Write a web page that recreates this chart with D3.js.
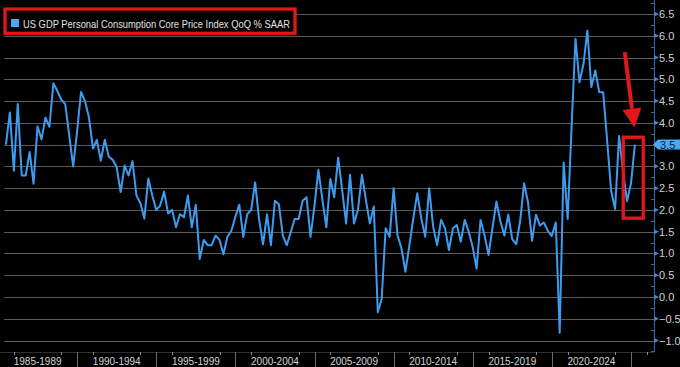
<!DOCTYPE html>
<html>
<head>
<meta charset="utf-8">
<script src="https://cdn.jsdelivr.net/npm/d3@7"></script>
<style>
  html, body { margin: 0; padding: 0; background: #000; }
  svg { display: block; }
  text { font-family: "Liberation Sans", Arial, sans-serif; }
</style>
</head>
<body>
<div id="chart"></div>
<script>
// ---- data ----
const seriesName = "US GDP Personal Consumption Core Price Index QoQ % SAAR";
const startYear = 1985;
const startQuarter = 2; // first observation: 1985 Q2
const values = [
  3.50, 4.24, 2.90, 4.43, 2.79, 2.79, 3.33, 2.60, 3.92, 3.62, 4.12, 3.91, 4.91, 4.73, 4.53, 4.43,
  3.72, 3.00, 3.82, 4.71, 4.50, 4.12, 3.41, 3.61, 3.13, 3.61, 3.22, 3.15, 2.98, 2.41, 3.02, 2.79,
  3.12, 2.33, 2.15, 1.80, 2.72, 2.33, 2.00, 2.10, 2.42, 1.92, 2.00, 1.60, 1.90, 1.83, 2.33, 1.60,
  2.12, 0.87, 1.31, 1.19, 1.19, 1.41, 1.31, 0.98, 1.38, 1.52, 1.84, 2.12, 1.38, 1.90, 2.00, 2.63,
  1.79, 1.21, 1.90, 1.19, 2.21, 2.13, 1.41, 1.19, 1.48, 1.79, 1.79, 2.21, 2.29, 1.38, 2.10, 2.92,
  2.25, 1.60, 2.71, 2.29, 3.20, 2.46, 1.69, 2.81, 1.69, 2.00, 2.81, 2.23, 1.69, 2.08, -0.35, -0.04,
  1.58, 1.38, 2.50, 1.42, 1.12, 0.58, 1.19, 1.81, 2.38, 1.81, 1.38, 2.50, 1.62, 1.19, 1.77, 1.58,
  1.08, 1.58, 1.65, 1.27, 1.77, 1.50, 1.15, 0.65, 1.77, 1.42, 0.96, 1.58, 2.19, 1.74, 1.41, 1.89,
  1.33, 1.21, 1.75, 2.61, 2.17, 1.29, 1.89, 1.64, 1.71, 1.52, 1.40, 1.71, -0.82, 3.09, 1.79, 3.90,
  5.93, 4.93, 5.35, 6.12, 4.82, 5.20, 4.70, 4.70, 3.60, 2.44, 2.02, 3.70, 2.90, 2.20, 2.60, 3.50
];
const bandLabels = ["1985-1989", "1990-1994", "1995-1999", "2000-2004", "2005-2009", "2010-2014", "2015-2019", "2020-2024"];
const bandStarts = [1985, 1990, 1995, 2000, 2005, 2010, 2015, 2020, 2025];
const yearTicks = [1986, 1989, 1991, 1994, 1996, 1999, 2001, 2004, 2006, 2009, 2011, 2014, 2016, 2019, 2021, 2024, 2026];
const yTicks = [-1.0, -0.5, 0.0, 0.5, 1.0, 1.5, 2.0, 2.5, 3.0, 3.5, 4.0, 4.5, 5.0, 5.5, 6.0, 6.5];
// annotation (in data space): box around latest readings, arrow pointing at it
const boxDates = [new Date(2024, 6, 6), new Date(2025, 9, 11)];
const boxValues = [3.67, 1.81];
const arrowFrom = { date: new Date(2024, 7, 10), value: 5.62 };
const arrowTo = { date: new Date(2025, 2, 20), value: 3.89 };

// ---- chart ----
const W = 680, H = 367;
const plotLeft = 4, plotRight = 652, plotBottom = 352;
const axisX = 654;
const blue = "#3e9cf0", red = "#e3161c";

const dates = values.map((v, i) => {
  const q = (startQuarter - 1) + i;
  const yr = startYear + Math.floor(q / 4);
  const qt = (q % 4) + 1;
  return new Date(yr, qt * 3, 0); // quarter end
});
const data = values.map((v, i) => ({ date: dates[i], value: v }));

const x = d3.scaleTime()
  .domain([new Date(1990, 0, 1), new Date(2025, 0, 1)])
  .range([77.2, 631]);
const y = d3.scaleLinear().domain([-1.0, 6.5]).range([340.5, 14]);

const svg = d3.select("#chart").append("svg")
  .attr("width", W).attr("height", H)
  .style("background", "#000");

svg.append("defs").append("clipPath").attr("id", "plotclip")
  .append("rect").attr("x", plotLeft).attr("y", 0)
  .attr("width", plotRight - plotLeft).attr("height", plotBottom);

// gridlines
svg.append("g").selectAll("line").data(yTicks).join("line")
  .attr("x1", plotLeft).attr("x2", axisX)
  .attr("y1", d => Math.round(y(d)) + 0.5).attr("y2", d => Math.round(y(d)) + 0.5)
  .attr("stroke", "#5a5a5a").attr("stroke-width", 1);

// x axis band
const xb = svg.append("g");
xb.append("line").attr("x1", 0).attr("x2", axisX).attr("y1", plotBottom + 0.5).attr("y2", plotBottom + 0.5)
  .attr("stroke", "#2e2e2e");
xb.selectAll("line.div").data(bandStarts).join("line").attr("class", "div")
  .attr("x1", d => Math.round(x(new Date(d, 0, 1))) + 0.5)
  .attr("x2", d => Math.round(x(new Date(d, 0, 1))) + 0.5)
  .attr("y1", plotBottom).attr("y2", H)
  .attr("stroke", "#6a6a6a");
xb.selectAll("line.yt").data(yearTicks).join("line").attr("class", "yt")
  .attr("x1", d => Math.round(x(new Date(d, 0, 1))) + 0.5)
  .attr("x2", d => Math.round(x(new Date(d, 0, 1))) + 0.5)
  .attr("y1", plotBottom).attr("y2", plotBottom + 3)
  .attr("stroke", "#8a8a8a");
xb.selectAll("text").data(bandLabels).join("text")
  .attr("x", (d, i) => (x(new Date(bandStarts[i], 0, 1)) + x(new Date(bandStarts[i + 1], 0, 1))) / 2)
  .attr("y", 364.5)
  .attr("text-anchor", "middle")
  .attr("font-size", "10px")
  .attr("fill", "#d4d4d4")
  .text(d => d);

// series line
svg.append("g").attr("clip-path", "url(#plotclip)")
  .append("path").datum(data)
  .attr("fill", "none").attr("stroke", blue).attr("stroke-width", 2)
  .attr("stroke-linejoin", "round")
  .attr("d", d3.line().x(d => x(d.date)).y(d => y(d.value)));

// y axis (right)
const ya = svg.append("g");
ya.append("line").attr("x1", axisX + 0.5).attr("x2", axisX + 0.5).attr("y1", 0).attr("y2", plotBottom)
  .attr("stroke", "#2f6db0").attr("stroke-width", 1);
const minor = d3.range(-1.25, 6.76, 0.5);
ya.selectAll("line.minor").data(minor).join("line").attr("class", "minor")
  .attr("x1", axisX - 3).attr("x2", axisX)
  .attr("y1", d => Math.round(y(d)) + 0.5).attr("y2", d => Math.round(y(d)) + 0.5)
  .attr("stroke", "#2f6db0");
ya.selectAll("path.maj").data(yTicks).join("path").attr("class", "maj")
  .attr("d", d => { const yy = y(d); return `M${axisX},${yy - 2.5}L${axisX + 5},${yy}L${axisX},${yy + 2.5}Z`; })
  .attr("fill", "#3f86d6");
const lastVal = values[values.length - 1];
ya.selectAll("text").data(yTicks.filter(d => Math.abs(d - lastVal) > 0.2)).join("text")
  .attr("x", 659).attr("y", d => y(d) + 4)
  .attr("font-size", "11px").attr("fill", "#d0d0d0")
  .text(d => d3.format(".1f")(d).replace("-", "-"));

// last value tag
const ly = y(lastVal);
ya.append("path")
  .attr("d", `M${axisX - 1},${ly}L${axisX + 4},${ly - 5}L${W},${ly - 5}L${W},${ly + 5}L${axisX + 4},${ly + 5}Z`)
  .attr("fill", "#4aa7f2");
ya.append("text").attr("x", 660).attr("y", ly + 4)
  .attr("font-size", "11px").attr("fill", "#0c2036")
  .text(d3.format(".1f")(lastVal));

// legend
const lg = svg.append("g");
lg.append("rect").attr("x", 5).attr("y", 9).attr("width", 290).attr("height", 24.3)
  .attr("fill", "#000").attr("stroke", red).attr("stroke-width", 3.3);
lg.append("rect").attr("x", 11).attr("y", 19).attr("width", 8).attr("height", 8).attr("fill", "#4aa7f2");
lg.append("text").attr("x", 23).attr("y", 28)
  .attr("font-size", "11px").attr("fill", "#e2e2e2")
  .attr("textLength", 267).attr("lengthAdjust", "spacingAndGlyphs")
  .text(seriesName);

// annotation
const ann = svg.append("g");
ann.append("rect")
  .attr("x", x(boxDates[0])).attr("y", y(boxValues[0]))
  .attr("width", x(boxDates[1]) - x(boxDates[0])).attr("height", y(boxValues[1]) - y(boxValues[0]))
  .attr("fill", "none").attr("stroke", red).attr("stroke-width", 3.3);
const ax0 = x(arrowFrom.date), ay0 = y(arrowFrom.value);
const ax1 = x(arrowTo.date), ay1 = y(arrowTo.value);
const ang = Math.atan2(ay1 - ay0, ax1 - ax0);
const headLen = 19, headHalf = 9.5;
const bx = ax1 - headLen * Math.cos(ang), by = ay1 - headLen * Math.sin(ang);
ann.append("line").attr("x1", ax0).attr("y1", ay0).attr("x2", bx).attr("y2", by)
  .attr("stroke", red).attr("stroke-width", 4);
ann.append("path")
  .attr("d", `M${ax1},${ay1}L${bx + headHalf * Math.sin(ang)},${by - headHalf * Math.cos(ang)}L${bx - headHalf * Math.sin(ang)},${by + headHalf * Math.cos(ang)}Z`)
  .attr("fill", red);
</script>
</body>
</html>
